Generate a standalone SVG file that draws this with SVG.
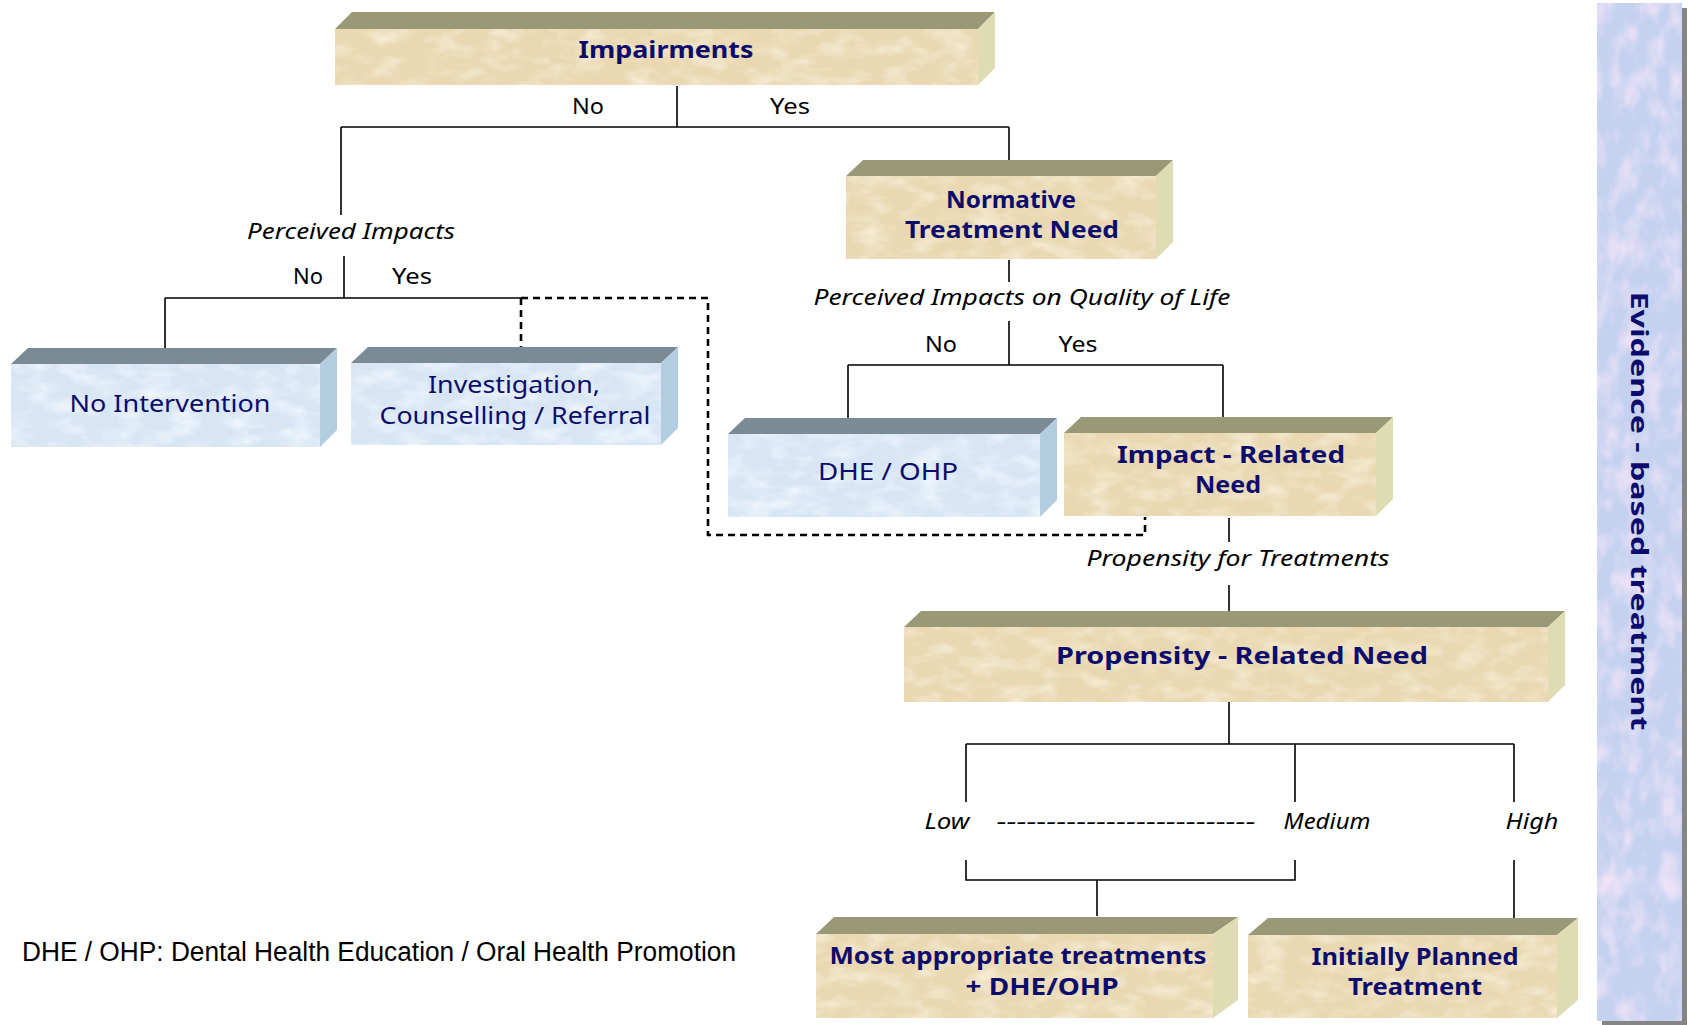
<svg xmlns="http://www.w3.org/2000/svg" width="1689" height="1025" viewBox="0 0 1689 1025">
<defs>
<filter id="tanTex" x="0" y="0" width="100%" height="100%">
<feTurbulence type="fractalNoise" baseFrequency="0.035 0.07" numOctaves="3" seed="4" result="n"/>
<feColorMatrix in="n" type="matrix" values="0 0 0 0 0.96  0 0 0 0 0.89  0 0 0 0 0.74  0 0 0 1.6 -0.7" result="s"/>
<feComposite in="s" in2="SourceGraphic" operator="atop"/>
</filter>
<filter id="blueTex" x="0" y="0" width="100%" height="100%">
<feTurbulence type="fractalNoise" baseFrequency="0.035 0.07" numOctaves="3" seed="9" result="n"/>
<feColorMatrix in="n" type="matrix" values="0 0 0 0 0.95  0 0 0 0 0.97  0 0 0 0 1  0 0 0 1.6 -0.7" result="s"/>
<feComposite in="s" in2="SourceGraphic" operator="atop"/>
</filter>
<filter id="sideTex" x="0" y="0" width="100%" height="100%">
<feTurbulence type="fractalNoise" baseFrequency="0.05 0.03" numOctaves="3" seed="2" result="n"/>
<feColorMatrix in="n" type="matrix" values="0 0 0 0 0.90  0 0 0 0 0.78  0 0 0 0 0.95  0 0 0 2 -0.85" result="s"/>
<feComposite in="s" in2="SourceGraphic" operator="atop"/>
</filter>
</defs>
<style>
.tf{fill:#e9d8b2}
.tt{fill:#999977}
.ts{fill:#dedcb2}
.bf{fill:#d8e6f4}
.bt{fill:#7b8b95}
.bs{fill:#b3cde0}
.bx{font-family:"Comic Sans MS","Noto Sans","DejaVu Sans",sans-serif;font-weight:bold;font-size:24px;fill:#0c0c6c;text-anchor:middle}
.bn{font-family:"Comic Sans MS","Noto Sans","DejaVu Sans",sans-serif;font-size:24px;fill:#0c0c6c;text-anchor:middle}
.lb{font-family:"Comic Sans MS","Noto Sans","DejaVu Sans",sans-serif;font-size:22px;fill:#000;text-anchor:middle}
.it{font-family:"Comic Sans MS","Noto Sans","DejaVu Sans",sans-serif;font-style:italic;font-size:22px;fill:#000;text-anchor:middle}
.ln{fill:none;stroke:#000;stroke-width:1.6}
.dl{fill:none;stroke:#000;stroke-width:2.6;stroke-dasharray:7 5}
</style>
<rect width="1689" height="1025" fill="#fff"/>

<g id="sidebar">
<rect x="1602" y="8" width="85" height="1017" fill="#858585"/>
<rect x="1597" y="3" width="85" height="1018" fill="#c4d2f0" filter="url(#sideTex)"/>
<text class="bx" transform="translate(1631,511) rotate(90)" x="0" y="0" textLength="439" lengthAdjust="spacingAndGlyphs">Evidence  -  based treatment</text>
</g>

<g id="connectors">
<path class="ln" d="M677,86V127M341,127H1009M341,127V215M1009,127V162"/>
<path class="ln" d="M344,256V298M165,298H521M165,298V348"/>
<path class="dl" d="M521,298V347M521,298H708V535H1145V517"/>
<path class="ln" d="M1009,260V282M1009,321V365M848,365H1223M848,365V418M1223,365V417"/>
<path class="ln" d="M1229,518V542M1229,585V611M1229,702V744M966,744H1514M966,744V802M1295,744V802M1514,744V802"/>
<path class="ln" d="M966,860V880H1295V860M1097,880V916M1514,860V918"/>
</g>

<g id="labels">
<text class="lb" x="588" y="114" textLength="32" lengthAdjust="spacingAndGlyphs">No</text>
<text class="lb" x="790" y="114" textLength="40" lengthAdjust="spacingAndGlyphs">Yes</text>
<text class="it" x="351" y="239" textLength="208" lengthAdjust="spacingAndGlyphs">Perceived Impacts</text>
<text class="lb" x="308" y="284" textLength="30" lengthAdjust="spacingAndGlyphs">No</text>
<text class="lb" x="412" y="284" textLength="40" lengthAdjust="spacingAndGlyphs">Yes</text>
<text class="it" x="1022" y="305" textLength="417" lengthAdjust="spacingAndGlyphs">Perceived Impacts on Quality of Life</text>
<text class="lb" x="941" y="352" textLength="32" lengthAdjust="spacingAndGlyphs">No</text>
<text class="lb" x="1078" y="352" textLength="39" lengthAdjust="spacingAndGlyphs">Yes</text>
<text class="it" x="1238" y="566" textLength="303" lengthAdjust="spacingAndGlyphs">Propensity for Treatments</text>
<text class="it" x="947" y="829" textLength="45" lengthAdjust="spacingAndGlyphs">Low</text>
<text class="it" x="1126" y="829" textLength="259" lengthAdjust="spacingAndGlyphs">--------------------------</text>
<text class="it" x="1327" y="829" textLength="87" lengthAdjust="spacingAndGlyphs">Medium</text>
<text class="it" x="1532" y="829" textLength="53" lengthAdjust="spacingAndGlyphs">High</text>
<text x="22" y="961" font-family="Liberation Sans, Arial, sans-serif" font-size="27" fill="#000" textLength="714" lengthAdjust="spacingAndGlyphs">DHE / OHP: Dental Health Education / Oral Health Promotion</text>
</g>

<g id="impairments">
<polygon class="tt" points="335,29 352,12 995,12 978,29"/>
<polygon class="ts" points="978,29 995,12 995,68 978,85"/>
<rect class="tf" x="335" y="29" width="643" height="56" filter="url(#tanTex)"/>
<text class="bx" x="666" y="58" textLength="175" lengthAdjust="spacingAndGlyphs">Impairments</text>
</g>

<g id="normative">
<polygon class="tt" points="846,176 863,160 1173,160 1156,176"/>
<polygon class="ts" points="1156,176 1173,160 1173,242 1156,259"/>
<rect class="tf" x="846" y="176" width="310" height="83" filter="url(#tanTex)"/>
<text class="bx" x="1011" y="208" textLength="130" lengthAdjust="spacingAndGlyphs">Normative</text>
<text class="bx" x="1012" y="238" textLength="214" lengthAdjust="spacingAndGlyphs">Treatment  Need</text>
</g>

<g id="no-intervention">
<polygon class="bt" points="11,364 28,348 337,348 320,364"/>
<polygon class="bs" points="320,364 337,348 337,430 320,447"/>
<rect class="bf" x="11" y="364" width="309" height="83" filter="url(#blueTex)"/>
<text class="bn" x="170" y="412" textLength="201" lengthAdjust="spacingAndGlyphs">No Intervention</text>
</g>

<g id="investigation">
<polygon class="bt" points="351,363 368,347 678,347 661,363"/>
<polygon class="bs" points="661,363 678,347 678,428 661,445"/>
<rect class="bf" x="351" y="363" width="310" height="82" filter="url(#blueTex)"/>
<text class="bn" x="514" y="393" textLength="172" lengthAdjust="spacingAndGlyphs">Investigation,</text>
<text class="bn" x="515" y="424" textLength="271" lengthAdjust="spacingAndGlyphs">Counselling / Referral</text>
</g>

<g id="dhe-ohp">
<polygon class="bt" points="728,434 745,418 1057,418 1040,434"/>
<polygon class="bs" points="1040,434 1057,418 1057,500 1040,517"/>
<rect class="bf" x="728" y="434" width="312" height="83" filter="url(#blueTex)"/>
<text class="bn" x="888" y="480" textLength="140" lengthAdjust="spacingAndGlyphs">DHE / OHP</text>
</g>

<g id="impact-related">
<polygon class="tt" points="1064,433 1081,417 1393,417 1376,433"/>
<polygon class="ts" points="1376,433 1393,417 1393,499 1376,516"/>
<rect class="tf" x="1064" y="433" width="312" height="83" filter="url(#tanTex)"/>
<text class="bx" x="1231" y="463" textLength="228" lengthAdjust="spacingAndGlyphs">Impact  -  Related</text>
<text class="bx" x="1228" y="493" textLength="66" lengthAdjust="spacingAndGlyphs">Need</text>
</g>

<g id="propensity-related">
<polygon class="tt" points="904,627 921,611 1565,611 1548,627"/>
<polygon class="ts" points="1548,627 1565,611 1565,685 1548,702"/>
<rect class="tf" x="904" y="627" width="644" height="75" filter="url(#tanTex)"/>
<text class="bx" x="1242" y="664" textLength="372" lengthAdjust="spacingAndGlyphs">Propensity  -  Related  Need</text>
</g>

<g id="most-appropriate">
<polygon class="tt" points="816,934 834,917 1238,917 1213,934"/>
<polygon class="ts" points="1213,934 1238,917 1238,1000 1213,1018"/>
<rect class="tf" x="816" y="934" width="397" height="84" filter="url(#tanTex)"/>
<text class="bx" x="1018" y="964" textLength="377" lengthAdjust="spacingAndGlyphs">Most appropriate treatments</text>
<text class="bx" x="1042" y="995" textLength="153" lengthAdjust="spacingAndGlyphs">+ DHE/OHP</text>
</g>

<g id="initially-planned">
<polygon class="tt" points="1248,935 1268,918 1578,918 1557,935"/>
<polygon class="ts" points="1557,935 1578,918 1578,1000 1557,1018"/>
<rect class="tf" x="1248" y="935" width="309" height="83" filter="url(#tanTex)"/>
<text class="bx" x="1415" y="965" textLength="207" lengthAdjust="spacingAndGlyphs">Initially Planned</text>
<text class="bx" x="1415" y="995" textLength="134" lengthAdjust="spacingAndGlyphs">Treatment</text>
</g>
</svg>
